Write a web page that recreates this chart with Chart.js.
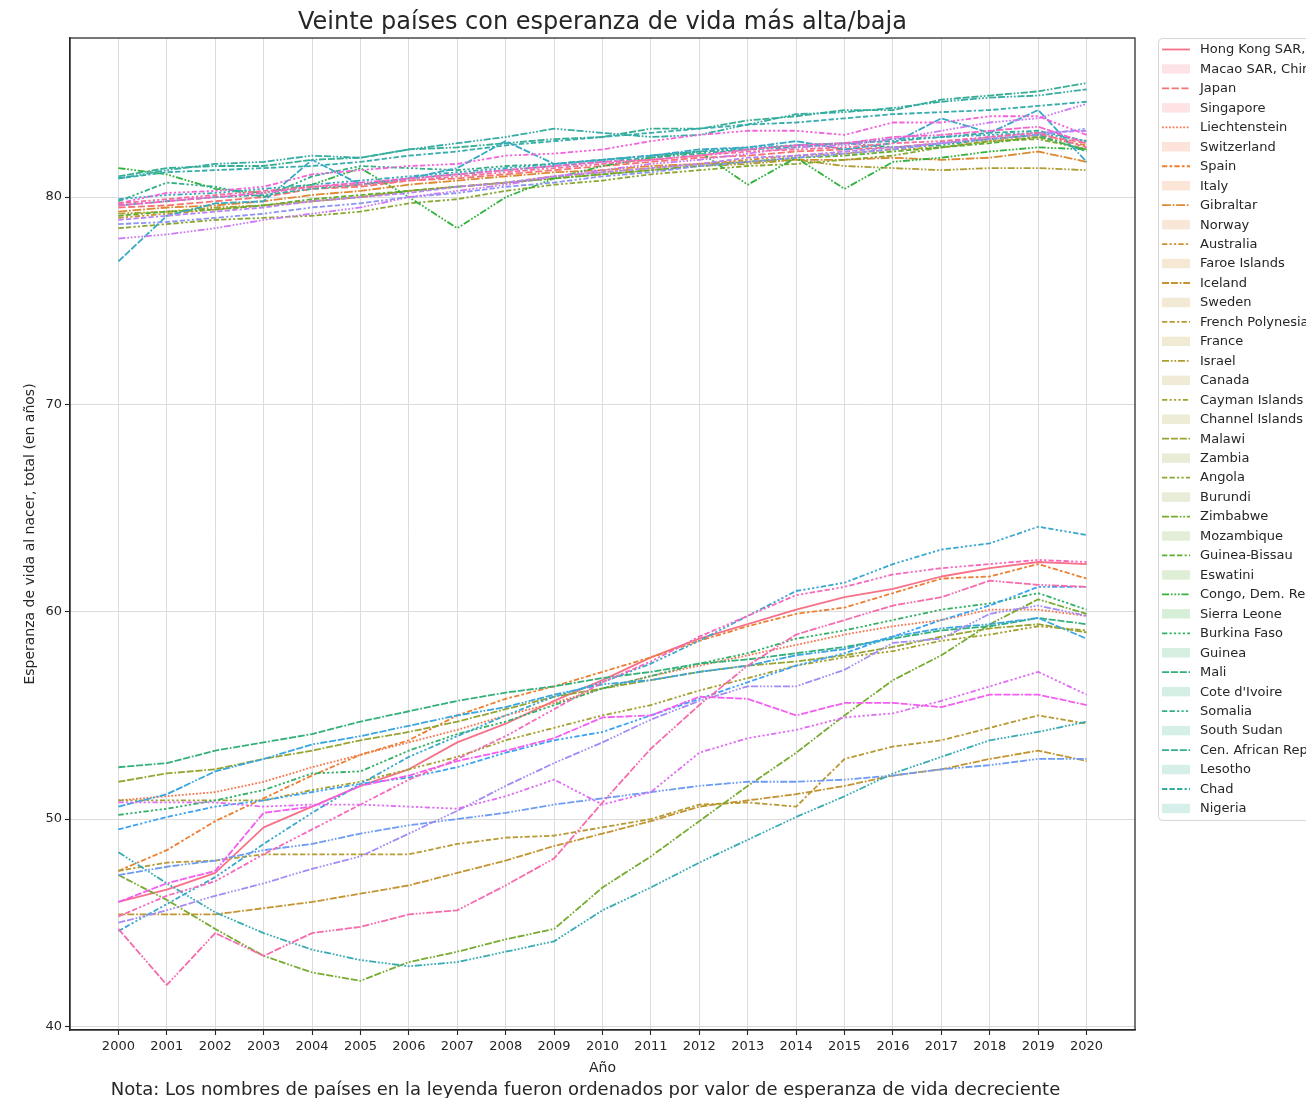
<!DOCTYPE html>
<html lang="es">
<head>
<meta charset="utf-8">
<title>Esperanza de vida</title>
<script src="https://cdn.jsdelivr.net/npm/chart.js@4/dist/chart.umd.min.js"></script>
<style>
  html, body { margin: 0; padding: 0; background: #ffffff; overflow: hidden; }
  canvas { display: block; }
</style>
</head>
<body>
<canvas id="chart" width="1306" height="1098"></canvas>
<script>
// ---------------------------------------------------------------
// Data: life expectancy at birth, 2000-2020
// ---------------------------------------------------------------
const years = [2000, 2001, 2002, 2003, 2004, 2005, 2006, 2007, 2008, 2009, 2010,
               2011, 2012, 2013, 2014, 2015, 2016, 2017, 2018, 2019, 2020];

const yTicks = [40, 50, 60, 70, 80];

const countries = [
  "Hong Kong SAR, China", "Macao SAR, China", "Japan", "Singapore", "Liechtenstein",
  "Switzerland", "Spain", "Italy", "Gibraltar", "Norway", "Australia", "Faroe Islands",
  "Iceland", "Sweden", "French Polynesia", "France", "Israel", "Canada", "Cayman Islands",
  "Channel Islands", "Malawi", "Zambia", "Angola", "Burundi", "Zimbabwe", "Mozambique",
  "Guinea-Bissau", "Eswatini", "Congo, Dem. Rep.", "Sierra Leone", "Burkina Faso", "Guinea",
  "Mali", "Cote d'Ivoire", "Somalia", "South Sudan", "Cen. African Rep.", "Lesotho", "Chad",
  "Nigeria"
];

const hongKong        = [46.0, 46.6, 47.4, 49.6, 50.6, 51.6, 52.4, 53.7, 54.6, 55.7, 56.7, 57.8, 58.7, 59.4, 60.1, 60.7, 61.1, 61.7, 62.1, 62.4, 62.3];
const macao           = [79.5, 79.6, 79.8, 80.0, 80.4, 80.5, 80.8, 80.9, 81.1, 81.3, 81.5, 81.7, 81.9, 82.0, 82.2, 82.3, 82.4, 82.6, 82.8, 83.0, 82.6];
const japan           = [50.9, 51.1, 51.3, 51.8, 52.5, 53.1, 53.7, 54.3, 55.0, 55.6, 56.3, 56.9, 57.4, 57.9, 58.4, 58.9, 59.3, 59.6, 60.1, 60.1, 59.8];
const singapore       = [47.5, 48.5, 49.9, 51.0, 52.1, 53.1, 53.8, 55.0, 55.8, 56.4, 57.1, 57.8, 58.6, 59.3, 59.9, 60.2, 60.9, 61.6, 61.7, 62.3, 61.6];
const liechtenstein   = [79.3, 79.5, 79.6, 79.8, 80.1, 80.3, 80.6, 80.8, 81.0, 81.2, 81.3, 81.5, 81.6, 81.7, 81.8, 81.8, 81.9, 81.8, 81.9, 82.2, 81.7];
const switzerland     = [79.0, 79.2, 79.4, 79.6, 79.8, 80.0, 80.3, 80.5, 80.7, 81.0, 81.2, 81.4, 81.6, 81.8, 82.0, 82.1, 82.3, 82.4, 82.7, 82.9, 82.5];
const spain           = [45.4, 45.4, 45.4, 45.7, 46.0, 46.4, 46.8, 47.4, 48.0, 48.7, 49.3, 49.9, 50.6, 50.9, 51.2, 51.6, 52.1, 52.4, 52.9, 53.3, 52.8];
const italy           = [47.5, 47.9, 48.0, 48.3, 48.3, 48.3, 48.3, 48.8, 49.1, 49.2, 49.6, 50.0, 50.7, 50.8, 50.6, 52.9, 53.5, 53.8, 54.4, 55.0, 54.6];
const gibraltar       = [79.2, 79.3, 79.5, 79.6, 79.8, 80.0, 80.3, 80.5, 80.7, 80.9, 81.1, 81.3, 81.5, 81.6, 81.8, 81.5, 81.4, 81.3, 81.4, 81.4, 81.3];
const norway          = [50.9, 50.9, 50.9, 50.9, 51.4, 51.8, 52.4, 53.0, 53.8, 54.4, 55.0, 55.5, 56.2, 56.8, 57.4, 57.8, 58.1, 58.6, 58.9, 59.3, 59.1];
const australia       = [51.8, 52.2, 52.4, 52.9, 53.3, 53.8, 54.2, 54.7, 55.3, 55.9, 56.3, 56.7, 57.1, 57.4, 57.6, 57.9, 58.3, 58.8, 59.2, 59.4, 59.0];
const faroeIslands    = [78.5, 78.7, 78.9, 79.0, 79.1, 79.3, 79.7, 79.9, 80.3, 80.6, 80.8, 81.1, 81.3, 81.5, 81.6, 81.8, 82.0, 82.4, 82.7, 82.8, 82.3];
const iceland         = [47.3, 46.1, 44.7, 43.4, 42.6, 42.2, 43.1, 43.6, 44.2, 44.7, 46.7, 48.2, 49.9, 51.6, 53.2, 55.0, 56.7, 57.9, 59.4, 60.6, 59.9];
const sweden          = [79.1, 79.3, 79.4, 79.6, 79.9, 80.1, 80.3, 80.5, 80.7, 80.9, 81.1, 81.3, 81.5, 81.7, 81.9, 82.0, 82.2, 82.4, 82.6, 82.9, 82.3];
const frenchPolynesia = [81.4, 81.1, 80.4, 80.2, 80.6, 81.4, 80.0, 78.5, 80.0, 80.9, 81.5, 81.9, 82.2, 80.6, 81.9, 80.4, 81.7, 81.9, 82.2, 82.4, 82.3];
const france          = [50.2, 50.5, 50.9, 51.4, 52.2, 52.3, 53.3, 54.1, 54.7, 55.5, 56.3, 56.9, 57.5, 58.0, 58.7, 59.1, 59.6, 60.1, 60.4, 60.9, 60.1];
const israel          = [52.5, 52.7, 53.3, 53.7, 54.1, 54.7, 55.2, 55.7, 56.1, 56.4, 56.8, 57.1, 57.5, 57.7, 58.0, 58.3, 58.7, 59.1, 59.3, 59.7, 59.4];
const canada          = [79.8, 80.7, 80.5, 80.0, 81.0, 81.5, 81.4, 81.3, 81.5, 81.6, 81.8, 82.0, 82.2, 82.3, 82.5, 82.6, 82.4, 82.5, 82.8, 83.0, 82.2];
const caymanIslands   = [81.0, 81.4, 81.5, 81.5, 81.8, 81.9, 82.3, 82.4, 82.6, 82.8, 82.9, 83.3, 83.3, 83.7, 83.9, 84.2, 84.2, 84.7, 84.9, 85.1, 85.5];
const channelIslands  = [79.6, 79.8, 80.0, 80.1, 80.4, 80.6, 80.9, 81.1, 81.3, 81.5, 81.7, 81.9, 82.1, 82.3, 82.4, 82.6, 82.7, 82.9, 83.1, 83.2, 82.7];
const malawi          = [80.9, 81.3, 81.6, 81.7, 82.0, 81.9, 82.3, 82.6, 82.9, 83.3, 83.1, 82.9, 83.0, 83.5, 84.0, 84.1, 84.3, 84.6, 84.8, 84.9, 85.2];
const zambia          = [80.9, 81.2, 81.3, 81.4, 81.5, 81.7, 82.0, 82.2, 82.5, 82.7, 82.9, 83.1, 83.3, 83.5, 83.6, 83.8, 84.0, 84.1, 84.2, 84.4, 84.6];
const angola          = [48.4, 46.9, 45.5, 44.5, 43.7, 43.2, 42.9, 43.1, 43.6, 44.1, 45.6, 46.7, 47.9, 49.0, 50.1, 51.1, 52.2, 53.0, 53.8, 54.2, 54.7];
const burundi         = [79.9, 80.1, 80.2, 80.4, 80.6, 80.8, 81.0, 81.2, 81.4, 81.6, 81.8, 82.0, 82.2, 82.4, 82.5, 82.6, 82.8, 82.9, 83.0, 83.1, 82.7];
const zimbabwe        = [76.9, 79.1, 79.7, 79.8, 81.8, 80.6, 80.9, 81.4, 82.7, 81.6, 81.8, 82.0, 82.3, 82.4, 82.7, 82.3, 82.6, 83.8, 83.1, 84.2, 81.7];
const mozambique      = [44.6, 45.9, 47.2, 48.8, 50.3, 51.7, 53.0, 54.0, 55.0, 55.9, 56.6, 57.5, 58.6, 59.8, 61.0, 61.4, 62.3, 63.0, 63.3, 64.1, 63.7];
const guineaBissau    = [50.6, 51.2, 52.3, 52.9, 53.6, 54.0, 54.5, 55.0, 55.4, 56.0, 56.5, 56.7, 57.1, 57.4, 57.9, 58.2, 58.8, 59.2, 59.4, 59.7, 58.7];
const eswatini        = [49.5, 50.1, 50.6, 50.9, 51.3, 51.7, 52.0, 52.5, 53.2, 53.8, 54.2, 55.0, 55.8, 56.6, 57.4, 58.0, 58.8, 59.6, 60.3, 61.2, 61.2];
const congoDemRep     = [47.3, 47.7, 48.0, 48.5, 48.8, 49.3, 49.7, 50.0, 50.3, 50.7, 51.0, 51.3, 51.6, 51.8, 51.8, 51.9, 52.1, 52.4, 52.6, 52.9, 52.9];
const sierraLeone     = [78.7, 78.8, 79.0, 79.2, 79.5, 79.7, 80.0, 80.2, 80.5, 80.7, 81.0, 81.2, 81.5, 81.7, 81.9, 82.1, 82.3, 82.6, 82.8, 83.0, 83.3];
const burkinaFaso     = [45.0, 45.6, 46.3, 46.9, 47.6, 48.2, 49.3, 50.4, 51.6, 52.7, 53.7, 54.8, 55.7, 56.4, 56.4, 57.2, 58.5, 58.7, 59.9, 60.3, 59.8];
const guinea          = [78.9, 79.1, 79.3, 79.5, 79.8, 80.0, 80.2, 80.5, 80.7, 81.0, 81.2, 81.4, 81.6, 81.9, 82.0, 82.2, 82.4, 82.6, 82.9, 83.1, 83.2];
const mali            = [78.0, 78.2, 78.5, 78.9, 79.2, 79.5, 80.0, 80.3, 80.6, 81.0, 81.3, 81.6, 81.8, 82.1, 82.4, 82.5, 82.8, 83.2, 83.6, 83.8, 84.5];
const coteDIvoire     = [50.8, 50.8, 50.8, 50.6, 50.7, 50.7, 50.6, 50.5, 51.1, 51.9, 50.7, 51.3, 53.2, 53.9, 54.3, 54.9, 55.1, 55.7, 56.4, 57.1, 56.0];
const somalia         = [46.0, 46.9, 47.5, 50.3, 50.6, 51.6, 52.1, 52.8, 53.3, 53.9, 54.9, 55.0, 55.9, 55.8, 55.0, 55.6, 55.6, 55.4, 56.0, 56.0, 55.5];
const southSudan      = [79.7, 80.2, 80.3, 80.5, 81.1, 81.3, 81.5, 81.6, 82.0, 82.1, 82.3, 82.7, 83.0, 83.2, 83.2, 83.0, 83.6, 83.6, 83.9, 83.9, 83.0];
const cenAfricanRep   = [79.6, 79.8, 80.0, 80.2, 80.5, 80.7, 80.9, 81.1, 81.3, 81.5, 81.7, 81.8, 82.0, 82.3, 82.5, 82.6, 82.9, 83.0, 83.2, 83.4, 82.6];
const lesotho         = [45.3, 46.3, 47.0, 48.3, 49.5, 50.7, 51.9, 52.9, 54.0, 55.3, 56.6, 57.6, 58.8, 59.8, 60.8, 61.2, 61.8, 62.1, 62.3, 62.5, 62.4];
const chad            = [44.7, 42.0, 44.5, 43.4, 44.5, 44.8, 45.4, 45.6, 46.8, 48.1, 50.8, 53.4, 55.5, 57.4, 58.9, 59.6, 60.3, 60.7, 61.5, 61.3, 61.2];
const nigeria         = [79.7, 79.9, 80.1, 80.3, 80.5, 80.6, 80.8, 81.0, 81.2, 81.4, 81.6, 81.8, 82.0, 82.2, 82.3, 82.4, 82.6, 82.7, 82.9, 83.1, 82.4];

const seriesValues = [
  hongKong, macao, japan, singapore, liechtenstein, switzerland, spain, italy, gibraltar,
  norway, australia, faroeIslands, iceland, sweden, frenchPolynesia, france, israel, canada,
  caymanIslands, channelIslands, malawi, zambia, angola, burundi, zimbabwe, mozambique,
  guineaBissau, eswatini, congoDemRep, sierraLeone, burkinaFaso, guinea, mali, coteDIvoire,
  somalia, southSudan, cenAfricanRep, lesotho, chad, nigeria
];

const titleText = "Veinte países con esperanza de vida más alta/baja";
const xTitle = "Año";
const yTitle = "Esperanza de vida al nacer, total (en años)";
const noteText = "Nota: Los nombres de países en la leyenda fueron ordenados por valor de esperanza de vida decreciente";

// ---------------------------------------------------------------
// HUSL palette (evenly spaced hues, fixed saturation/lightness)
// ---------------------------------------------------------------
const M = [[3.2406, -1.5372, -0.4986], [-0.9689, 1.8758, 0.0415], [0.0557, -0.2040, 1.0570]];
const REF_U = 0.19784, REF_V = 0.46834, LAB_E = 0.008856, LAB_K = 903.3;

function maxChroma(L, H) {
  const hr = H * Math.PI / 180, sinH = Math.sin(hr), cosH = Math.cos(hr);
  const sub1 = Math.pow(L + 16, 3) / 1560896.0;
  const sub2 = sub1 > 0.008856 ? sub1 : L / 903.3;
  let result = Infinity;
  for (const [m1, m2, m3] of M) {
    const top = (0.99915 * m1 + 1.05122 * m2 + 1.14460 * m3) * sub2;
    const rb = 0.86330 * m3 - 0.17266 * m2;
    const lb = 0.12949 * m3 - 0.38848 * m1;
    const bottom = (rb * sinH + lb * cosH) * sub2;
    for (const t of [0, 1]) {
      const C = L * (top - 1.05122 * t) / (bottom + 0.17266 * sinH * t);
      if (C > 0 && C < result) result = C;
    }
  }
  return result;
}
function fInv(t) { return Math.pow(t, 3) > LAB_E ? Math.pow(t, 3) : (116 * t - 16) / LAB_K; }
function fromLinear(c) { return c <= 0.0031308 ? 12.92 * c : 1.055 * Math.pow(c, 1 / 2.4) - 0.055; }
function huslToRgb(H, S, L) {
  const C = maxChroma(L, H) / 100 * S;
  const hr = H * Math.PI / 180;
  const U = Math.cos(hr) * C, V = Math.sin(hr) * C;
  const varY = fInv((L + 16) / 116);
  const varU = U / (13 * L) + REF_U, varV = V / (13 * L) + REF_V;
  const Y = varY;
  const X = 0 - (9 * Y * varU) / ((varU - 4) * varV - varU * varV);
  const Z = (9 * Y - 15 * varV * Y - varV * X) / (3 * varV);
  return M.map(r => {
    const v = fromLinear(r[0] * X + r[1] * Y + r[2] * Z);
    return Math.round(Math.min(1, Math.max(0, v)) * 255);
  });
}
function huslPalette(n, h = 0.01, s = 0.9, l = 0.65) {
  const out = [];
  for (let i = 0; i < n; i++) {
    const hue = ((i / n + h) % 1) * 359;
    out.push(huslToRgb(hue, s * 99, l * 99));
  }
  return out;
}

// Distinct dash patterns, one per series
function uniqueDashes(n) {
  const dashes = [[], [4, 1.5], [1, 1], [3, 1.25, 1.5, 1.25], [5, 1, 1, 1]];
  let p = 3;
  while (dashes.length < n) {
    for (let j = 0; j <= p - 2; j++) {
      const a = [], b = [];
      for (let q = 0; q < p; q++) a.push(q < j + 1 ? 3 : 1.25);
      for (let q = 0; q < p; q++) b.push(q < p - 1 - j ? 4 : 1);
      for (const seg of [a, b]) {
        const gap = Math.min(...seg);
        const spec = [];
        seg.forEach(s => spec.push(s, gap));
        dashes.push(spec);
      }
    }
    p++;
  }
  return dashes.slice(0, n);
}

const palette = huslPalette(seriesValues.length);
const dashes = uniqueDashes(seriesValues.length);
const rgb = (c, a = 1) => `rgba(${c[0]},${c[1]},${c[2]},${a})`;

// ---------------------------------------------------------------
// Styling
// ---------------------------------------------------------------
const FONT = "'DejaVu Sans', 'Liberation Sans', sans-serif";
const INK = '#262626';
const GRID = '#dcdcdc';
const LINE_W = 1.8;
const DASH_SCALE = 1.77;

const PLOT_LEFT = 70, PLOT_RIGHT_GAP = 171, PLOT_BOTTOM_GAP = 68;

// Axis limits with a 5% margin around the data, like the default autoscale
const allValues = seriesValues.flat();
const vMin = Math.min(...allValues), vMax = Math.max(...allValues);
const vPad = (vMax - vMin) * 0.05;
const xPad = (years[years.length - 1] - years[0]) * 0.05;

// Spines on all four sides, boxed legend and footnote
const decorations = {
  id: 'decorations',
  afterDraw(chart) {
    const { ctx, chartArea: a } = chart;
    ctx.save();
    ctx.strokeStyle = INK;
    ctx.lineWidth = 1.25;
    ctx.strokeRect(a.left, a.top, a.right - a.left, a.bottom - a.top);

    // Legend: entries alternate between a line sample and a shaded band sample
    const n = countries.length;
    const fx = a.right + 23, fy = a.top;
    const rowStep = 19.46, row0 = fy + 11.5;
    const fh = row0 + (n - 1) * rowStep + 11.5 - fy;
    ctx.beginPath();
    ctx.roundRect(fx + 0.5, fy + 0.5, 400, fh, 4);
    ctx.fillStyle = 'rgba(255,255,255,0.8)';
    ctx.fill();
    ctx.strokeStyle = '#d6d6d6';
    ctx.lineWidth = 1;
    ctx.stroke();

    ctx.font = `13px ${FONT}`;
    ctx.textBaseline = 'middle';
    ctx.textAlign = 'left';
    for (let j = 0; j < n; j++) {
      const y = row0 + j * rowStep;
      const k = Math.floor(j / 2);
      const hx = fx + 4, hw = 28;
      if (j % 2 === 0) {
        ctx.beginPath();
        ctx.setLineDash(dashes[k].map(d => d * DASH_SCALE));
        ctx.strokeStyle = rgb(palette[k]);
        ctx.lineWidth = LINE_W;
        ctx.moveTo(hx, y);
        ctx.lineTo(hx + hw, y);
        ctx.stroke();
        ctx.setLineDash([]);
      } else {
        ctx.fillStyle = rgb(palette[k], 0.2);
        ctx.fillRect(hx, y - 4.7, hw, 9.4);
      }
      ctx.fillStyle = INK;
      ctx.fillText(countries[j], fx + 42, y + 0.5);
    }

    // Footnote
    ctx.font = `18px ${FONT}`;
    ctx.textAlign = 'center';
    ctx.fillStyle = INK;
    ctx.fillText(noteText, 585.5, chart.height - 8);
    ctx.restore();
  }
};

const chart = new Chart(document.getElementById('chart'), {
  type: 'line',
  data: {
    datasets: seriesValues.map((vals, k) => ({
      label: countries[k],
      data: vals.map((v, i) => ({ x: years[i], y: v })),
      borderColor: rgb(palette[k]),
      backgroundColor: rgb(palette[k]),
      borderWidth: LINE_W,
      borderDash: dashes[k].map(d => d * DASH_SCALE),
      borderCapStyle: 'butt',
      borderJoinStyle: 'round',
      pointRadius: 0,
      tension: 0,
      fill: false,
      order: seriesValues.length - 1 - k
    }))
  },
  options: {
    responsive: false,
    animation: false,
    devicePixelRatio: 1,
    layout: { padding: { left: 0, right: PLOT_RIGHT_GAP, top: 0, bottom: 0 } },
    plugins: {
      legend: { display: false },
      tooltip: { enabled: false },
      title: {
        display: true,
        text: titleText,
        fullSize: false,
        color: INK,
        font: { family: FONT, size: 24, weight: 'normal' },
        padding: { top: 8, bottom: 1.2 }
      }
    },
    scales: {
      x: {
        type: 'linear',
        min: years[0] - xPad,
        max: years[years.length - 1] + xPad,
        afterBuildTicks: s => { s.ticks = years.map(v => ({ value: v })); },
        afterFit: s => { s.height = PLOT_BOTTOM_GAP; },
        ticks: {
          color: INK, font: { family: FONT, size: 13 }, padding: 4,
          maxRotation: 0, autoSkip: false,
          callback: v => String(v)
        },
        grid: { color: GRID, lineWidth: 1, tickColor: INK, tickLength: 5, tickWidth: 1.1 },
        border: { display: true, color: INK, width: 1.25 },
        title: {
          display: true, text: xTitle, color: INK,
          font: { family: FONT, size: 14 }, padding: { top: 0, bottom: 21.6 }
        }
      },
      y: {
        type: 'linear',
        min: vMin - vPad,
        max: vMax + vPad,
        afterBuildTicks: s => { s.ticks = yTicks.map(v => ({ value: v })); },
        afterFit: s => { s.width = PLOT_LEFT; },
        ticks: {
          color: INK, font: { family: FONT, size: 13 }, padding: 3,
          callback: v => String(v)
        },
        grid: { color: GRID, lineWidth: 1, tickColor: INK, tickLength: 5, tickWidth: 1.1 },
        border: { display: true, color: INK, width: 1.25 },
        title: {
          display: true, text: yTitle, color: INK,
          font: { family: FONT, size: 14 }, padding: { top: 21.6, bottom: 0 }
        }
      }
    }
  },
  plugins: [decorations]
});
</script>
</body>
</html>
